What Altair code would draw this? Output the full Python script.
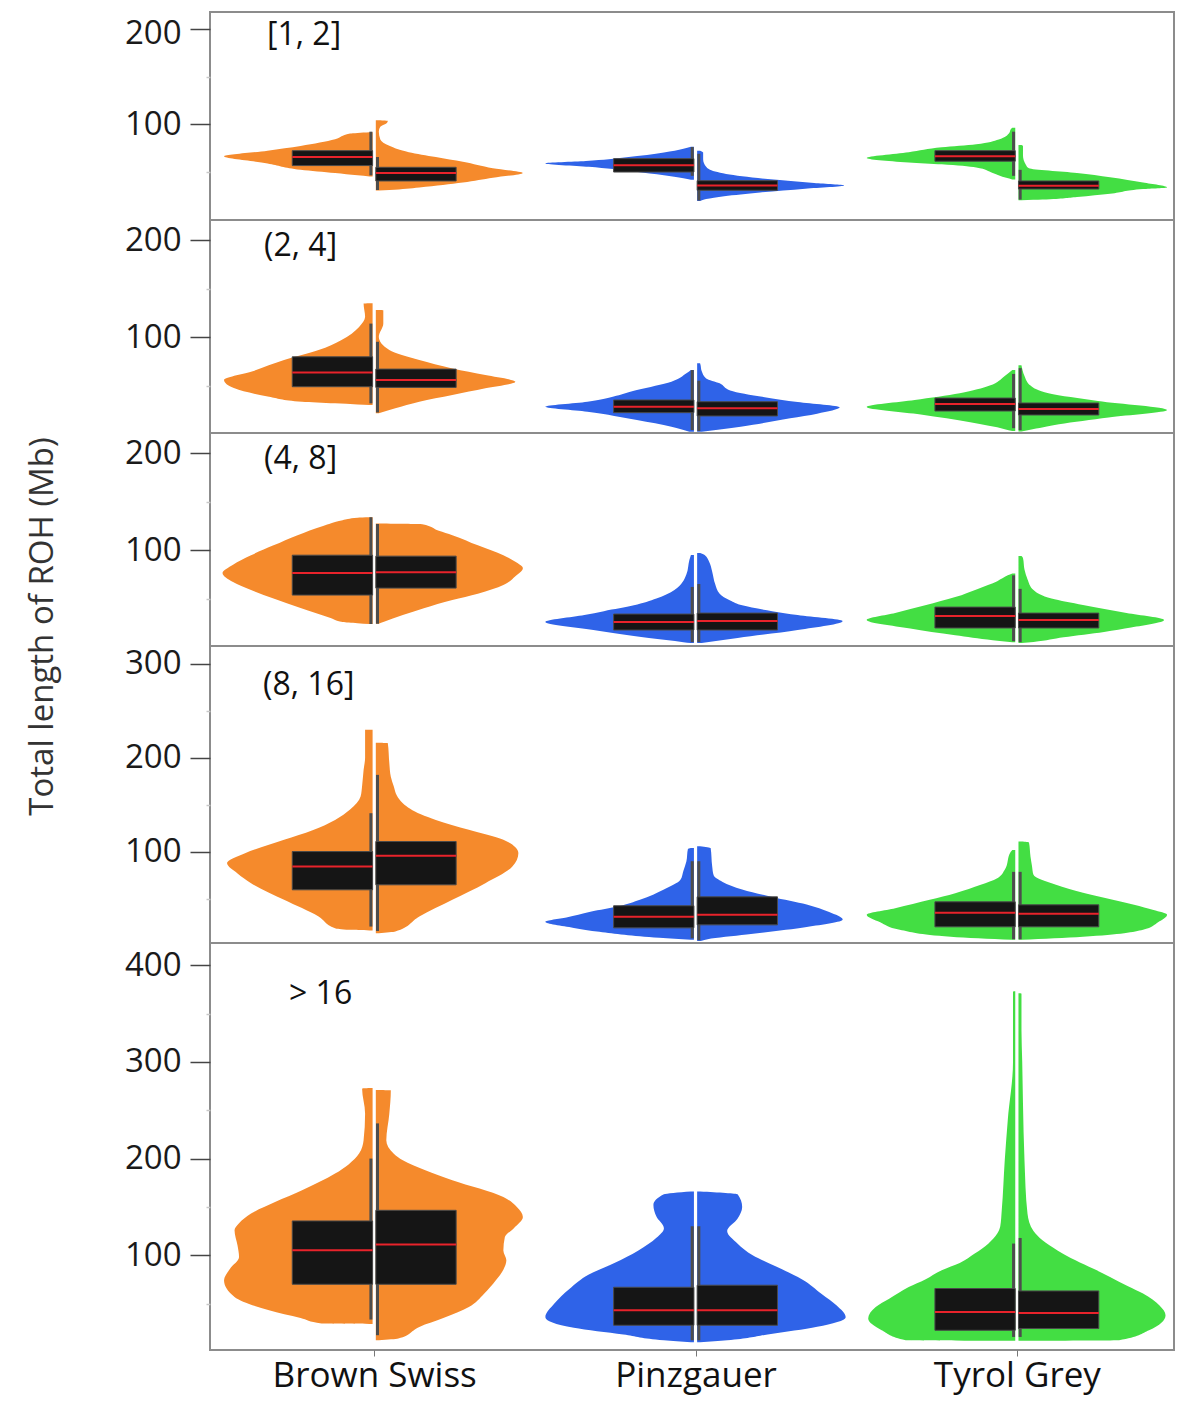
import altair as alt
import pandas as pd

# ---------------- data ----------------
breeds = ["Brown Swiss", "Pinzgauer", "Tyrol Grey"]
classes = ["[1, 2]", "(2, 4]", "(4, 8]", "(8, 16]", "> 16"]
y_domains = [[-1, 218], [1, 221], [1, 221], [3, 319], [2, 423]]
y_ticks = [[50, 100, 150, 200], [50, 100, 150, 200], [50, 100, 150, 200],
           [50, 100, 150, 200, 250, 300],
           [50, 100, 150, 200, 250, 300, 350, 400]]

# half-violin outlines: (total ROH length in Mb, relative density)
# "a" = left half, "b" = right half
c1_bs_a = [(91.5, .02), (90, .15), (84, .25), (77, .48), (72, .70), (66, .99), (58.6, .70), (52, .48), (48.5, .25), (46, .10), (44.8, .02)]
c1_bs_b = [(104, .02), (103.3, .08), (100.7, .07), (97.3, .03), (92.3, .02), (83.8, .03), (77.1, .09), (70.4, .22), (65.3, .40), (60.3, .58), (53.5, .78), (48.5, .98), (43.4, .78), (38.4, .58), (33.3, .29), (30.6, .09), (30, .02)]
c1_pz_a = [(76, .02), (74, .07), (70, .20), (65, .45), (61, .72), (58.6, .99), (55, .70), (50, .40), (46, .20), (43, .07), (41.5, .02)]
c1_pz_b = [(72, .02), (70, .04), (63, .04), (55, .06), (50, .12), (45, .30), (41, .55), (38, .78), (35.4, .98), (32, .72), (28, .42), (24, .18), (21, .06), (19, .02)]
c1_tg_a = [(96, .02), (94.6, .03), (90.6, .04), (83.8, .11), (78.8, .26), (75.5, .49), (70.4, .71), (64.3, .99), (59.6, .71), (57.6, .49), (54.2, .26), (48.5, .15), (43.4, .06), (41.7, .02)]
c1_tg_b = [(78, .02), (77, .03), (67, .03), (57, .05), (53.5, .07), (48.5, .39), (44.1, .61), (38.4, .83), (33.3, .99), (31.6, .83), (26.6, .61), (23.2, .39), (20.5, .16), (19.9, .02)]

c2_bs_a = [(135, .02), (134.7, .06), (121, .05), (110.6, .09), (96.9, .21), (86.6, .36), (76.3, .59), (64.2, .81), (55.7, .99), (47.1, .92), (38.5, .69), (33.3, .47), (31.6, .25), (30.5, .10), (29.9, .02)]
c2_bs_b = [(128, .02), (127.8, .05), (114.1, .05), (100.3, .02), (86.6, .09), (76.3, .29), (67.7, .51), (60.8, .73), (53.9, .93), (47.1, .73), (40.2, .51), (33.3, .29), (26.5, .13), (21.3, .02)]
c2_pz_a = [(66, .02), (62.6, .05), (53.9, .15), (45.4, .38), (33.3, .71), (28.1, .99), (23, .71), (14.4, .38), (7.5, .15), (2.4, .03)]
c2_pz_b = [(73, .01), (72.9, .02), (65, .03), (57.4, .06), (52.3, .15), (45, .22), (38, .45), (33, .67), (27.5, .95), (21, .80), (16.2, .62), (7.5, .29), (2.4, .03)]
c2_tg_a = [(66, .02), (60, .07), (50, .17), (42, .37), (35, .67), (27.8, .99), (20, .63), (12, .30), (5, .07), (3, .02)]
c2_tg_b = [(71, .02), (60, .04), (50, .08), (42, .20), (34, .53), (24.7, .99), (17, .60), (10, .27), (4, .07), (2.5, .02)]

c3_bs_a = [(134, .02), (133.5, .10), (131, .20), (125, .33), (115.5, .50), (105, .66), (94.8, .81), (85, .93), (76.3, 1.0), (67, .93), (58.8, .81), (50, .66), (40.2, .48), (30, .28), (25.8, .20), (24.5, .10), (23.7, .02)]
c3_bs_b = [(127.5, .02), (126.8, .31), (120, .42), (115.5, .51), (105, .68), (94.8, .85), (88, .93), (81.4, .98), (73, .93), (63.9, .85), (55, .68), (48.5, .51), (40, .32), (33, .18), (25.8, .05), (24, .02)]
c3_pz_a = [(95, .02), (90, .03), (75, .05), (58.8, .13), (50, .25), (43, .40), (37, .60), (33, .73), (25.8, .99), (17.5, .67), (9.3, .30), (5, .07), (4, .02)]
c3_pz_b = [(97, .02), (95, .05), (88, .08), (78, .10), (65, .12), (55, .15), (48, .22), (43, .30), (37, .50), (33, .67), (26.8, .97), (17.5, .67), (9.3, .27), (4.1, .03)]
c3_tg_a = [(76, .02), (74, .05), (68, .12), (60, .25), (51.5, .40), (43, .60), (35, .80), (27.8, .99), (19, .70), (12, .40), (7, .15), (5, .02)]
c3_tg_b = [(94, .02), (92, .03), (80, .04), (70, .06), (58.8, .10), (50, .22), (43.3, .43), (35, .72), (27.8, .97), (20, .75), (15.5, .57), (10, .30), (5.2, .10), (4, .02)]

c4_bs_a = [(230, .02), (229.8, .05), (215, .05), (200, .05), (187.2, .06), (170, .07), (158.8, .08), (145, .15), (134, .25), (123, .40), (112.8, .59), (98.6, .85), (88, .97), (77, .90), (66.7, .81), (48.9, .59), (31.2, .36), (18.8, .25), (17, .15), (16.3, .02)]
c4_bs_b = [(216, .02), (215.6, .08), (194.4, .09), (180, .10), (169.5, .12), (160, .14), (151.8, .18), (140, .30), (134, .40), (123.4, .62), (112.8, .85), (105, .93), (98.6, .95), (84.4, .91), (66.7, .73), (48.9, .51), (31.2, .29), (15.2, .13), (13.5, .02)]
c4_pz_a = [(104, .02), (103, .04), (90, .05), (80, .07), (70.2, .09), (60, .20), (48.9, .36), (42, .50), (36.2, .69), (30, .85), (25.5, .99), (19, .80), (14.9, .63), (8.5, .23), (6.4, .02)]
c4_pz_b = [(106, .02), (104, .09), (85, .10), (75, .11), (68, .17), (60, .30), (52, .50), (44, .73), (36, .88), (28, .97), (20, .73), (12, .33), (7, .07), (5, .02)]
c4_tg_a = [(102, .02), (100, .03), (81, .07), (72, .12), (65, .23), (56, .40), (48.9, .57), (40, .80), (33, .99), (25, .90), (17, .77), (9.6, .43), (6.4, .02)]
c4_tg_b = [(111, .02), (110, .07), (95, .08), (85, .09), (75.5, .10), (65, .25), (56.4, .43), (50, .60), (43.6, .77), (38, .90), (33, .99), (25, .93), (17, .83), (9.6, .43), (6.4, .02)]

c5_bs_a = [(273, .02), (272.4, .07), (246.5, .05), (218.9, .06), (205.2, .09), (194, .16), (184.5, .25), (167.2, .47), (155, .65), (143.1, .81), (133, .89), (125.9, .92), (110, .90), (98.2, .89), (86, .95), (74.1, .99), (56.9, .92), (43.1, .69), (35, .48), (29.4, .34), (29, .02)]
c5_bs_b = [(271, .02), (270.6, .10), (246.5, .09), (218.9, .07), (205, .12), (198.2, .18), (188, .33), (177.6, .51), (160.3, .85), (150, .94), (139.6, .98), (128, .92), (118.9, .86), (105, .85), (94.8, .87), (85, .85), (74.1, .80), (60, .72), (46.5, .62), (35, .45), (25.9, .29), (13.9, .15), (12.1, .02)]
c5_pz_a = [(166, .02), (163, .20), (152, .27), (140, .25), (128, .20), (118, .25), (105, .37), (92, .53), (80, .70), (65, .83), (50, .93), (36, .99), (25, .80), (18, .47), (12, .20), (10, .02)]
c5_pz_b = [(166, .02), (163, .27), (150, .30), (138, .27), (125, .20), (112, .27), (100, .37), (88, .53), (75, .70), (60, .83), (48, .93), (36, .99), (26, .80), (18, .47), (12, .20), (10, .02)]
c5_tg_a = [(373, .01), (372.3, .015), (300, .015), (239.6, .05), (198.2, .07), (146.5, .09), (130, .10), (122.4, .12), (112, .18), (101.8, .27), (92, .37), (84.5, .49), (75, .60), (67.2, .71), (55, .84), (46.5, .93), (34.5, .98), (22.4, .89), (12.1, .73), (11.5, .02)]
c5_tg_b = [(371, .01), (370.6, .02), (332.7, .02), (300, .025), (256.9, .03), (198.2, .04), (143.1, .06), (125, .10), (115.5, .16), (105, .26), (94.8, .38), (86, .50), (77.6, .61), (68, .73), (60.4, .83), (48, .94), (38, .98), (22.4, .87), (12.1, .67), (11.5, .02)]

# box statistics per half: (q1, median, q3, whisker low, whisker high), order BS a/b, PZ a/b, TG a/b
box_c1 = [(56.3, 65.4, 72.0, 46, 92), (40.1, 48.5, 54.5, 30.6, 65.3), (49.5, 56.6, 63.6, 45.5, 75.8),
          (30.3, 35.4, 40.4, 19.5, 68.7), (60.9, 66.0, 72.0, 45.5, 92), (31.6, 35.1, 40.1, 20.5, 51.8)]
box_c2 = [(48.8, 63.6, 79.7, 31.6, 114), (48.1, 55.7, 67.0, 22.2, 95.2), (22.0, 28.1, 35.1, 4, 66),
          (18.6, 26.5, 33.3, 3, 55), (23.7, 30.9, 37.1, 6, 62), (19.6, 25.8, 32.0, 4, 68)]
box_c3 = [(53.6, 76.3, 94.8, 23.7, 134), (60.8, 77.3, 93.8, 24, 127), (17.5, 25.8, 34.0, 5, 62),
          (17.5, 26.8, 35.0, 5, 65), (19.6, 32.0, 41.2, 6, 74), (19.6, 27.8, 35.0, 5, 60)]
box_c4 = [(59.6, 84.4, 100.3, 20.5, 141.1), (64.9, 95.7, 111.0, 15.8, 181.9), (19.1, 30.9, 42.6, 8, 90),
          (22.3, 33.0, 52.1, 6, 90), (20.2, 35.1, 46.8, 7, 78.7), (20.2, 34.0, 43.6, 7, 78.7)]
box_c5 = [(70.0, 105.2, 135.5, 33.5, 200), (70.0, 111.1, 146.5, 17.3, 236.4), (27.6, 43.1, 66.9, 12, 130),
          (27.6, 43.1, 69.0, 12, 130), (22.4, 41.4, 65.6, 15.5, 112.1), (24.2, 40.3, 63.1, 15.5, 117.9)]

profiles = [
    [c1_bs_a, c1_bs_b, c1_pz_a, c1_pz_b, c1_tg_a, c1_tg_b],
    [c2_bs_a, c2_bs_b, c2_pz_a, c2_pz_b, c2_tg_a, c2_tg_b],
    [c3_bs_a, c3_bs_b, c3_pz_a, c3_pz_b, c3_tg_a, c3_tg_b],
    [c4_bs_a, c4_bs_b, c4_pz_a, c4_pz_b, c4_tg_a, c4_tg_b],
    [c5_bs_a, c5_bs_b, c5_pz_a, c5_pz_b, c5_tg_a, c5_tg_b],
]
boxes = [box_c1, box_c2, box_c3, box_c4, box_c5]

colors = ["#F58A2C", "#2F63E8", "#43DE43"]
panel_heights = [208, 213, 213, 297, 407]
label_y = [33, 36, 36, 49, 61]
label_x = [57, 54, 54, 53, 79]

# ---------------- geometry in breed units ----------------
HALF_W = 0.467   # half-violin width at relative density 1
GAP = 0.005      # white gap between halves
BOX_W = 0.255    # box reaches this far from the centre
WHISK = 0.0103   # whisker offset from centre

x_scale = alt.Scale(domain=[-0.511, 2.489], nice=False, zero=False)
color_scale = alt.Scale(domain=breeds, range=colors)

panels = []
for k in range(5):
    vrows, brows = [], []
    for j, prof in enumerate(profiles[k]):
        b = j // 2
        side = -1 if j % 2 == 0 else 1
        for v, d in prof:
            vrows.append({"series": j, "breed": breeds[b], "value": v,
                          "xo": b + side * (GAP + d * HALF_W), "xi": b + side * GAP})
        q1, med, q3, lo, hi = boxes[k][j]
        brows.append({"breed": breeds[b], "q1": q1, "med": med, "q3": q3, "lo": lo, "hi": hi,
                      "bo": b + side * BOX_W, "bi": b + side * GAP, "xw": b + side * WHISK})
    vdf = pd.DataFrame(vrows)
    bdf = pd.DataFrame(brows)

    is_last = k == 4
    if is_last:
        xaxis = alt.Axis(values=[0, 1, 2],
                         labelExpr="['Brown Swiss','Pinzgauer','Tyrol Grey'][datum.value]",
                         tickSize=6, tickColor="#777", labelFontSize=35, labelFont="Open Sans",
                         labelColor="#111", labelPadding=2, labelLimit=0,
                         domain=False, grid=False, title=None)
    else:
        xaxis = None

    ykw = dict(values=y_ticks[k],
               labelExpr="datum.value % 100 == 0 ? datum.label : ''",
               tickSize={"condition": {"test": "datum.value % 100 != 0", "value": 4}, "value": 20},
               tickColor={"condition": {"test": "datum.value % 100 != 0", "value": "#c8c8c8"}, "value": "#444"},
               tickWidth=1.5, labelFontSize=33, labelFont="Open Sans", labelColor="#1a1a1a",
               labelPadding=9, domain=False, grid=False)
    if k == 0:
        # keep the topmost label fully inside the page
        ykw.update(labelOffset={"condition": {"test": "datum.value == 200", "value": 4.5}, "value": 0})
    if k == 2:
        ykw.update(title="Total length of ROH (Mb)", titleFont="Open Sans", titleFontSize=33,
                   titleFontWeight="normal", titleColor="#333", titleAngle=270,
                   titleX=-158, titleY=193, titleAlign="center", titleBaseline="alphabetic")
    else:
        ykw.update(title=None)
    yaxis = alt.Axis(**ykw)
    y_scale = alt.Scale(domain=y_domains[k], nice=False, zero=False)

    area = alt.Chart(vdf).mark_area(orient="horizontal", interpolate="monotone").encode(
        y=alt.Y("value:Q", scale=y_scale, axis=yaxis),
        x=alt.X("xo:Q", scale=x_scale, axis=xaxis, stack=None),
        x2="xi:Q",
        detail="series:N",
        color=alt.Color("breed:N", scale=color_scale, legend=None),
    )
    bb = alt.Chart(bdf)
    box = bb.mark_rect(fill="#151515", stroke="#4a4a4a", strokeWidth=1).encode(
        x=alt.X("bo:Q", scale=x_scale), x2="bi:Q",
        y=alt.Y("q1:Q", scale=y_scale), y2="q3:Q")
    whisker = bb.mark_rule(color="#4d4d4d", strokeWidth=3).encode(
        x=alt.X("xw:Q", scale=x_scale),
        y=alt.Y("lo:Q", scale=y_scale), y2="hi:Q")
    median = bb.mark_rule(color="#E8232B", strokeWidth=2).encode(
        x=alt.X("bo:Q", scale=x_scale), x2="bi:Q",
        y=alt.Y("med:Q", scale=y_scale))
    label = alt.Chart(pd.DataFrame({"t": [classes[k]]})).mark_text(
        align="left", baseline="alphabetic", font="Open Sans", fontSize=32, color="#111"
    ).encode(text="t:N", x=alt.value(label_x[k]), y=alt.value(label_y[k]))

    panels.append(alt.layer(area, whisker, box, median, label).properties(
        width=964, height=panel_heights[k]))

chart = alt.vconcat(*panels, spacing=0, bounds="flush").properties(
    padding={"left": 17, "top": 3, "right": 10, "bottom": 5}
).configure_view(stroke="#8c8c8c", strokeWidth=2)

chart.save("out.html", embed_options={"renderer": "svg", "actions": False})
